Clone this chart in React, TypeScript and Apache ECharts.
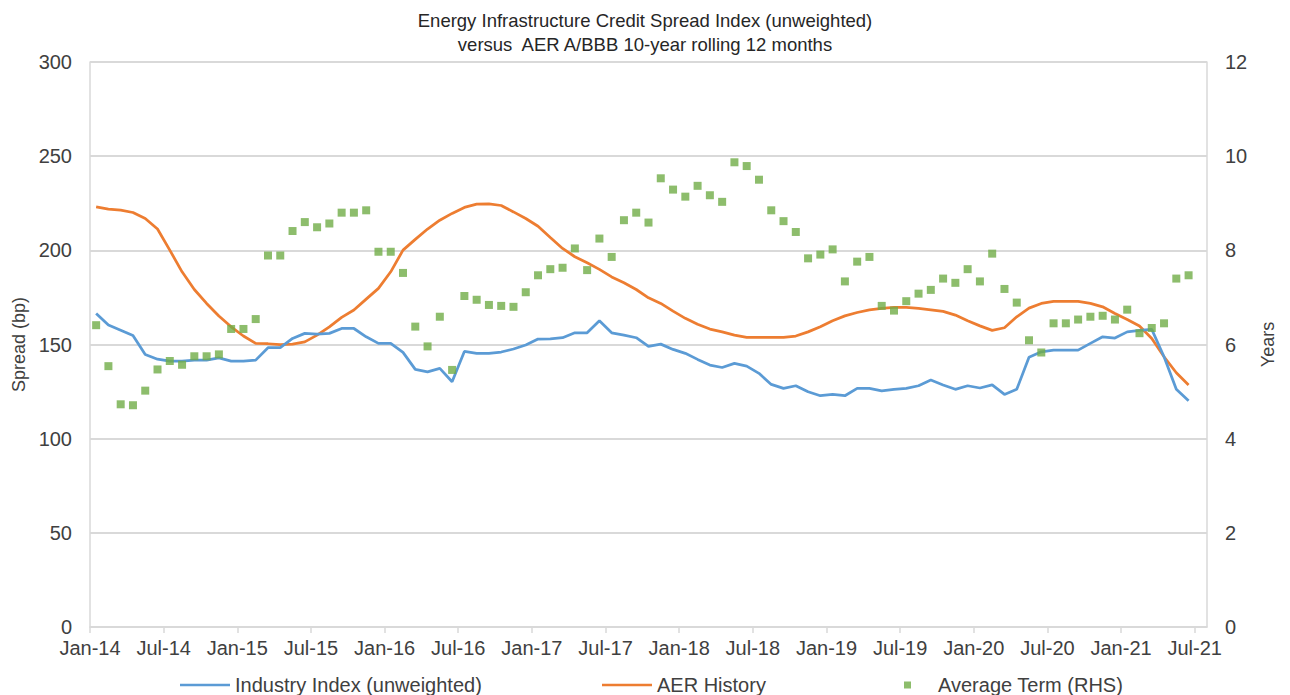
import React, { useEffect, useRef } from "react";
import * as echarts from "echarts";

const tickLabels = [
  "Jan-14", "Jul-14", "Jan-15", "Jul-15", "Jan-16", "Jul-16", "Jan-17", "Jul-17",
  "Jan-18", "Jul-18", "Jan-19", "Jul-19", "Jan-20", "Jul-20", "Jan-21", "Jul-21",
];

// Monthly values Jan-14 .. Jun-21
const industryIndex = [
  166.5, 160.3, 157.6, 154.8, 144.7, 142.2, 141.2, 141.2, 141.7, 141.7,
  142.9, 141.2, 141.2, 141.7, 148.3, 148.3, 153.2, 155.9, 155.5, 155.9,
  158.5, 158.5, 154.1, 150.6, 150.6, 145.8, 136.8, 135.5, 137.3, 130.2,
  146.3, 145.3, 145.3, 146.0, 147.6, 149.7, 152.9, 153.0, 153.6, 156.2,
  156.2, 162.6, 156.2, 155.0, 153.6, 149.0, 150.2, 147.4, 145.3, 142.1,
  139.1, 137.8, 140.0, 138.5, 134.7, 128.8, 126.7, 128.1, 124.9, 122.8,
  123.5, 122.8, 126.7, 126.7, 125.4, 126.2, 126.7, 128.1, 131.1, 128.5,
  126.2, 128.1, 126.9, 128.6, 123.5, 126.2, 143.2, 146.1, 147.0, 147.0,
  147.0, 150.6, 154.1, 153.4, 156.7, 157.5, 158.0, 143.5, 126.2, 120.1,
];

const aerHistory = [
  223.1, 221.9, 221.3, 220.1, 216.9, 211.3, 200.1, 188.6, 179.2, 171.8,
  165.1, 159.4, 154.5, 150.6, 150.4, 149.9, 150.2, 151.4, 155.0, 159.4,
  164.4, 168.3, 174.1, 179.8, 188.6, 200.1, 205.8, 211.3, 216.0, 219.6,
  222.8, 224.5, 224.7, 223.8, 220.4, 216.9, 212.8, 206.8, 201.0, 196.6,
  193.4, 189.9, 185.9, 182.8, 179.2, 174.8, 171.8, 167.7, 163.9, 160.8,
  158.2, 156.7, 155.0, 153.8, 153.8, 153.8, 153.8, 154.5, 156.7, 159.4,
  162.6, 165.2, 167.0, 168.4, 169.2, 169.7, 169.7, 169.2, 168.4, 167.6,
  165.6, 162.6, 159.9, 157.5, 158.9, 164.7, 169.3, 171.8, 172.9, 172.9,
  172.9, 171.8, 170.0, 166.5, 163.3, 159.8, 153.2, 143.5, 135.0, 128.5,
];

const averageTerm = [
  6.41, 5.54, 4.73, 4.71, 5.02, 5.47, 5.65, 5.57, 5.75, 5.75,
  5.79, 6.33, 6.33, 6.54, 7.89, 7.89, 8.41, 8.60, 8.49, 8.57,
  8.80, 8.80, 8.85, 7.97, 7.97, 7.52, 6.38, 5.96, 6.59, 5.46,
  7.03, 6.95, 6.84, 6.82, 6.80, 7.11, 7.47, 7.60, 7.63, 8.04,
  7.58, 8.25, 7.86, 8.64, 8.80, 8.59, 9.53, 9.29, 9.14, 9.37,
  9.17, 9.03, 9.87, 9.79, 9.50, 8.85, 8.62, 8.39, 7.83, 7.91,
  8.02, 7.34, 7.76, 7.86, 6.82, 6.72, 6.92, 7.08, 7.16, 7.40,
  7.31, 7.60, 7.34, 7.93, 7.18, 6.89, 6.09, 5.83, 6.45, 6.45,
  6.53, 6.59, 6.61, 6.53, 6.74, 6.24, 6.35, 6.45, 7.40, 7.47,
];

const seriesNames = ["Industry Index (unweighted)", "AER History", "Average Term (RHS)"];
const MONTHS_PER_TICK = 6;
const TOTAL_MONTHS = (tickLabels.length - 1) * MONTHS_PER_TICK + 1; // axis runs through end of Jul-21

const FONT = "'Liberation Sans', Arial, sans-serif";
const TEXT = "#404040";
const GRID = "#D9D9D9";
const BLUE = "#5B9BD5";
const ORANGE = "#ED7D31";
const GREEN = "#70AD47";

export default function App() {
  const ref = useRef<HTMLDivElement>(null);

  useEffect(() => {
    document.body.style.margin = "0";
    if (!ref.current) return;
    const chart = echarts.init(ref.current, null, { renderer: "svg" });

    const toPoints = (arr: number[]) => arr.map((v, i) => [i + 0.5, v]);
    const tickValues = tickLabels.map((_, k) => k * MONTHS_PER_TICK);
    const legendText = { fontFamily: FONT, fontSize: 20, color: TEXT };

    const option: any = {
      animation: false,
      backgroundColor: "#fff",
      textStyle: { fontFamily: FONT },
      title: {
        text: "Energy Infrastructure Credit Spread Index (unweighted)\nversus  AER A/BBB 10-year rolling 12 months",
        left: "center",
        top: 3,
        textStyle: {
          fontFamily: FONT,
          fontSize: 18.5,
          fontWeight: "normal",
          color: "#262626",
          lineHeight: 24,
        },
      },
      grid: { left: 90, right: 83, top: 62, bottom: 68, containLabel: false, outerBoundsMode: "none" },
      legend: [
        {
          data: [seriesNames[0]],
          left: 180,
          top: 675,
          padding: 0,
          icon: "rect",
          itemWidth: 50,
          itemHeight: 2.5,
          itemGap: 0,
          textStyle: legendText,
        },
        {
          data: [seriesNames[1]],
          left: 602,
          top: 675,
          padding: 0,
          icon: "rect",
          itemWidth: 50,
          itemHeight: 2.5,
          textStyle: legendText,
        },
        {
          data: [seriesNames[2]],
          left: 904,
          top: 675,
          padding: 0,
          icon: "rect",
          itemWidth: 7,
          itemHeight: 7,
          textStyle: { ...legendText, padding: [0, 0, 0, 22] },
        },
      ],
      xAxis: {
        type: "value",
        min: 0,
        max: TOTAL_MONTHS,
        interval: MONTHS_PER_TICK,
        axisLine: { show: true, lineStyle: { color: GRID, width: 1.5 } },
        axisTick: {
          show: true,
          length: 6,
          lineStyle: { color: GRID, width: 1.5 },
          customValues: tickValues,
        },
        axisLabel: {
          show: true,
          margin: 11,
          fontSize: 20,
          fontFamily: FONT,
          color: TEXT,
          customValues: tickValues,
          formatter: (v: number) => {
            const k = Math.round(v / MONTHS_PER_TICK);
            return v % MONTHS_PER_TICK === 0 && tickLabels[k] ? tickLabels[k] : "";
          },
        },
        splitLine: { show: false },
      },
      yAxis: [
        {
          type: "value",
          min: 0,
          max: 300,
          interval: 50,
          name: "Spread (bp)",
          nameLocation: "middle",
          nameRotate: 90,
          nameGap: 61,
          nameTextStyle: { fontFamily: FONT, fontSize: 18, color: TEXT },
          axisLine: { show: true, lineStyle: { color: GRID, width: 1.5 } },
          axisTick: { show: false },
          axisLabel: { margin: 18, fontSize: 20, fontFamily: FONT, color: TEXT },
          splitLine: { show: true, lineStyle: { color: GRID, width: 2 } },
        },
        {
          type: "value",
          min: 0,
          max: 12,
          interval: 2,
          position: "right",
          name: "Years",
          nameLocation: "middle",
          nameRotate: 90,
          nameGap: 52,
          nameTextStyle: { fontFamily: FONT, fontSize: 18, color: TEXT },
          axisLine: { show: true, lineStyle: { color: GRID, width: 1.5 } },
          axisTick: { show: false },
          axisLabel: { margin: 18, fontSize: 20, fontFamily: FONT, color: TEXT },
          splitLine: { show: false },
        },
      ],
      series: [
        {
          name: seriesNames[0],
          type: "line",
          yAxisIndex: 0,
          data: toPoints(industryIndex),
          symbol: "none",
          lineStyle: { color: BLUE, width: 2.75 },
          itemStyle: { color: BLUE },
          z: 3,
        },
        {
          name: seriesNames[1],
          type: "line",
          yAxisIndex: 0,
          data: toPoints(aerHistory),
          symbol: "none",
          lineStyle: { color: ORANGE, width: 2.75 },
          itemStyle: { color: ORANGE },
          z: 2,
        },
        {
          name: seriesNames[2],
          type: "scatter",
          yAxisIndex: 1,
          data: toPoints(averageTerm),
          symbol: "rect",
          symbolSize: 8,
          itemStyle: { color: GREEN },
          z: 4,
        },
      ],
    };

    chart.setOption(option);
    return () => chart.dispose();
  }, []);

  return <div ref={ref} style={{ width: 1290, height: 695 }} />;
}
